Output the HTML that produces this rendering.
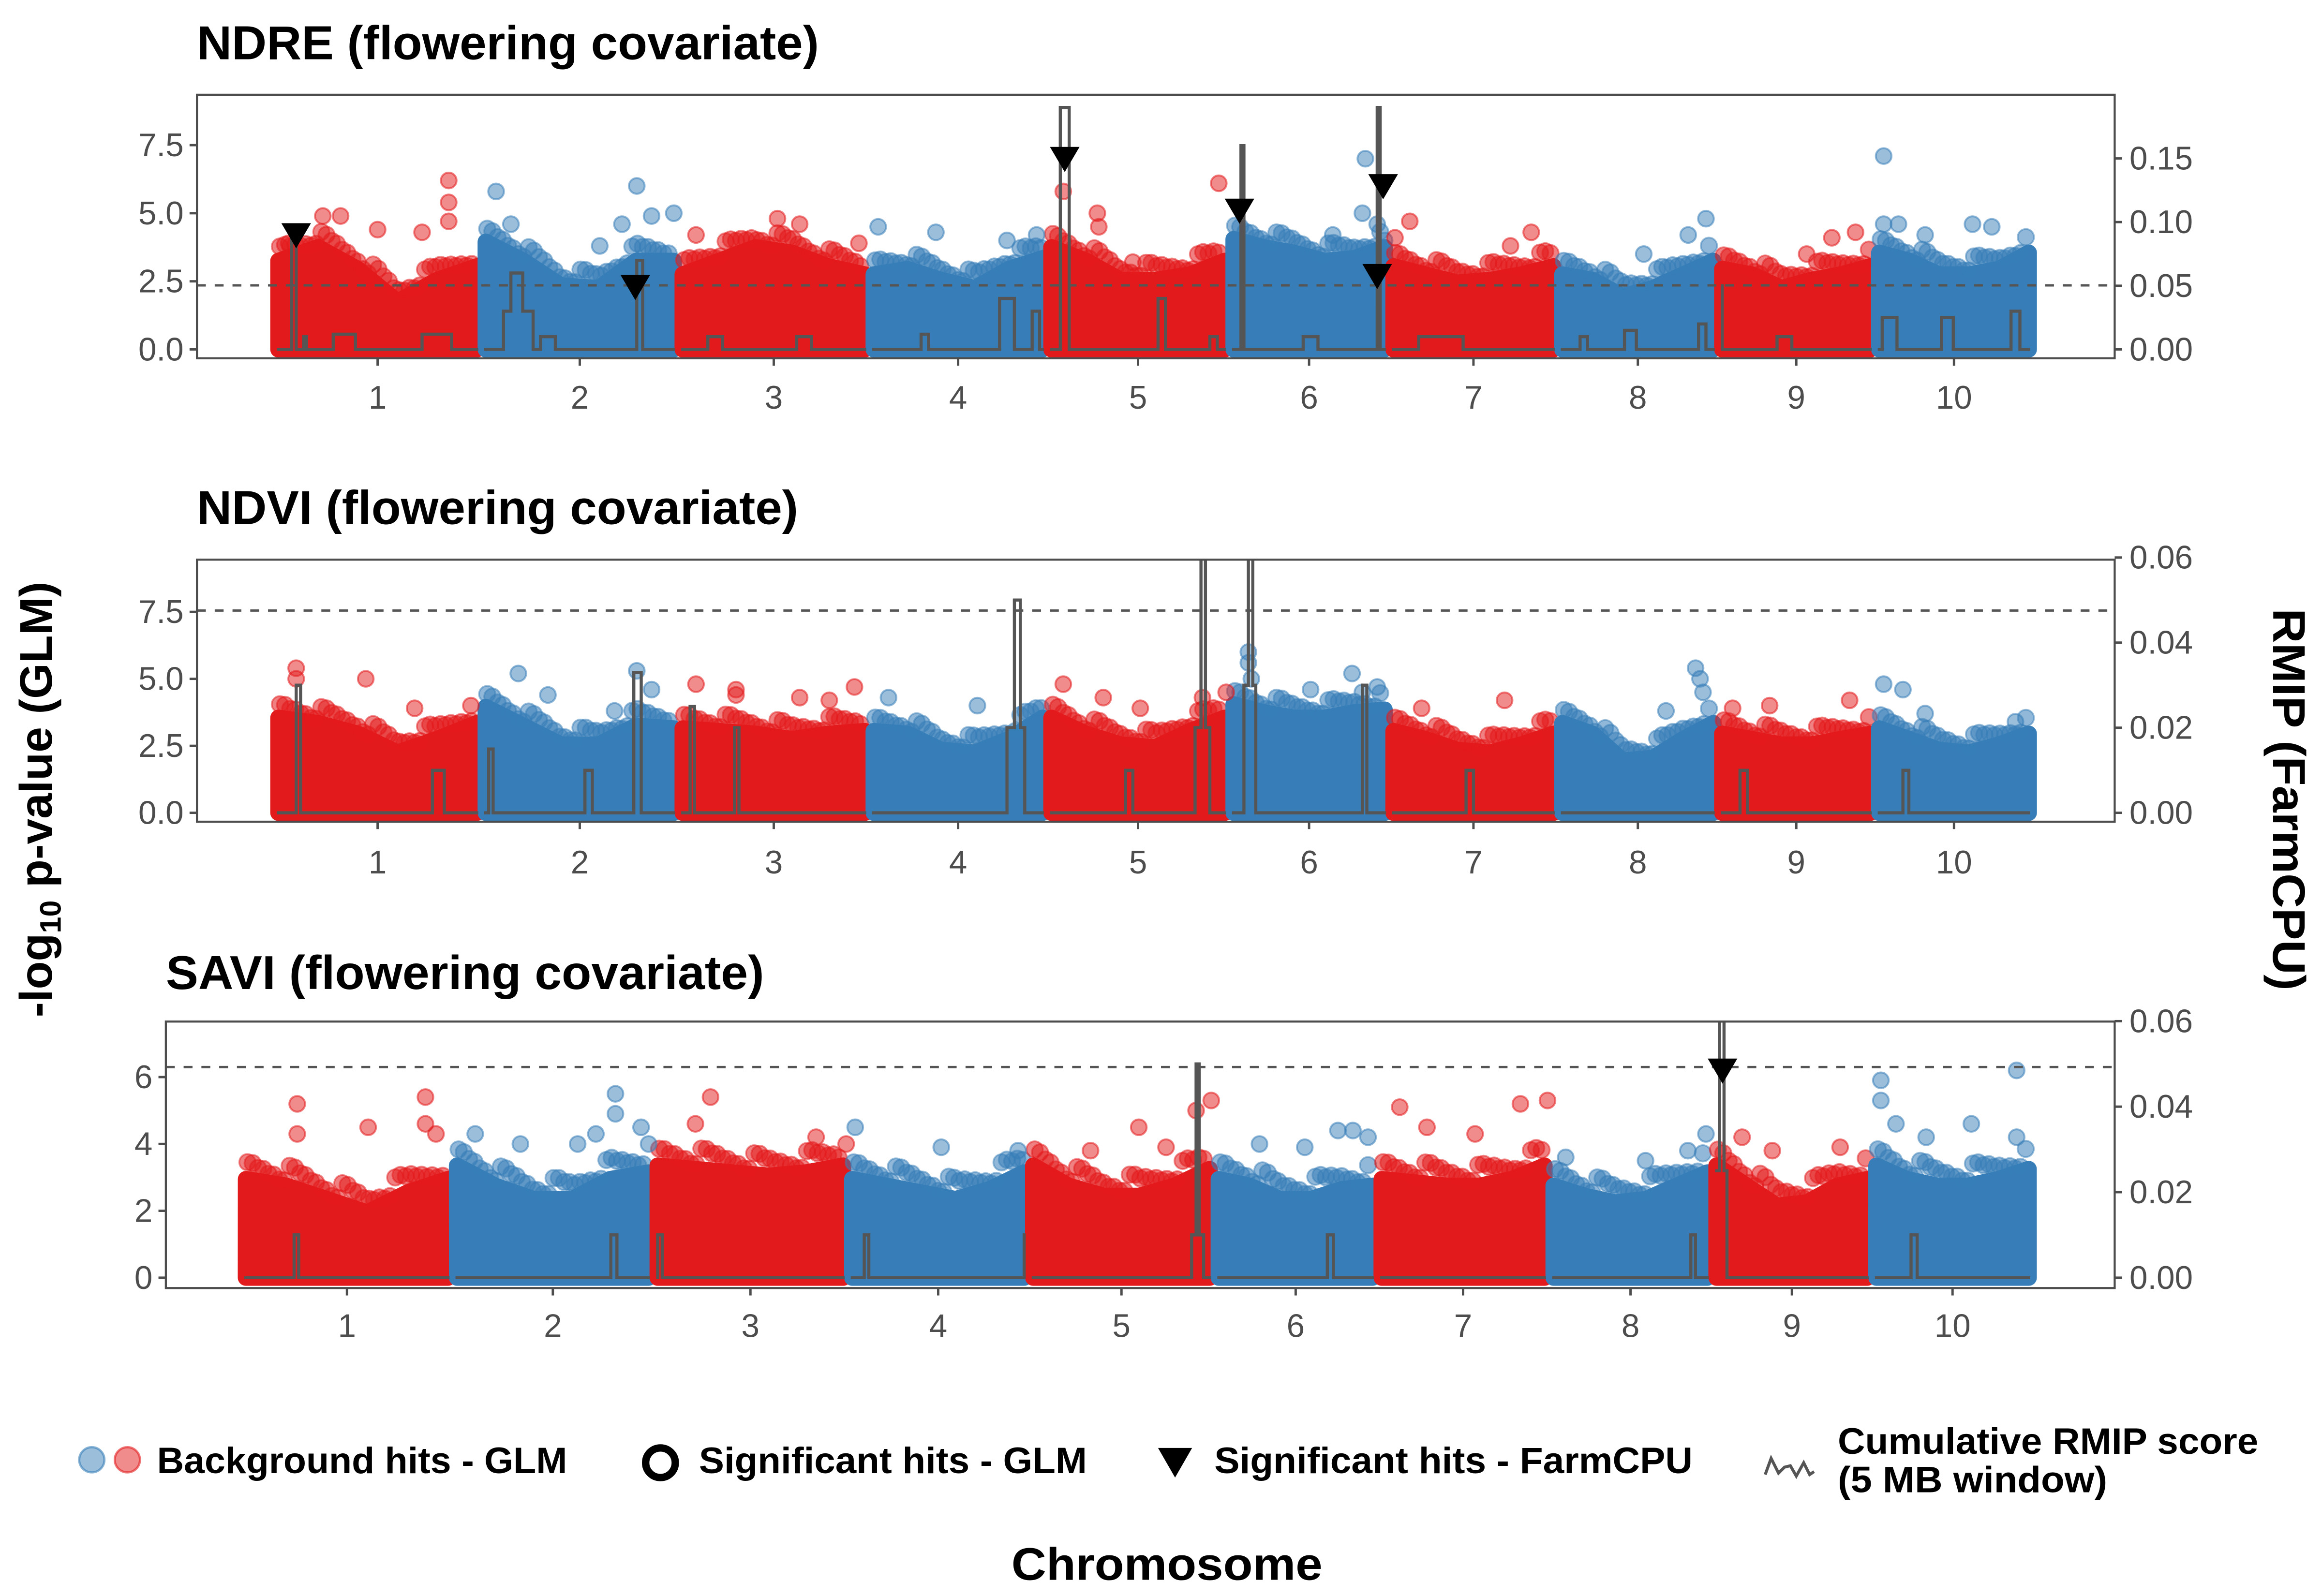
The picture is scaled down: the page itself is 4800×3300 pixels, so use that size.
<!DOCTYPE html>
<html><head><meta charset="utf-8"><style>
html,body{margin:0;padding:0;background:#fff}
svg{display:block}
text{font-family:"Liberation Sans",sans-serif}
</style></head><body>
<svg id="chart" width="4800" height="3300" viewBox="0 0 1568 1078" xmlns="http://www.w3.org/2000/svg">
<g id="root"></g>
</svg>
<script>
// ---------- data ----------
const chromosomes = ["1","2","3","4","5","6","7","8","9","10"];
const chrLen = [140,133,129,120,123,108,114,108,106,107];
const leftTicks12 = [0,2.5,5,7.5];
const leftTickLabels12 = ["0.0","2.5","5.0","7.5"];
const leftTicks3 = [0,2,4,6];
const leftTickLabels3 = ["0","2","4","6"];
const rightTicks1 = [0,0.05,0.10,0.15];
const rightTickLabels1 = ["0.00","0.05","0.10","0.15"];
const rightTicks23 = [0,0.02,0.04,0.06];
const rightTickLabels23 = ["0.00","0.02","0.04","0.06"];

// dense cloud upper envelope, 6 bins per chromosome
const envNDRE = [[3.5,4,3.2,2,2.8,3.3],[4.2,3.5,2.6,2.5,3.5,3.5],[3,3.5,4,3.8,3.3,3],[3,3.2,2.8,2.5,3.2,3.6],[4,3.5,2.8,2.8,3,3.5],[4.3,4,3.8,3.5,3.6,4],[3.3,3,2.7,2.8,3,3.3],[3,2.8,2.2,2.5,3,3.5],[3.2,3,2.5,2.8,3,3.3],[3.8,3.5,3,3,3.2,3.8]];
const envNDVI = [[3.8,3.6,3.2,2.5,3.0,3.6],[4.2,3.5,2.8,2.8,3.5,3.4],[3.4,3.3,3.2,3.0,3.2,3.3],[3.3,3.2,2.6,2.5,3.0,3.8],[3.8,3.2,2.8,2.7,3.3,3.8],[4.3,4.0,3.8,3.8,4.0,4.1],[3.3,3.0,2.6,2.5,2.8,3.2],[3.6,3.2,2.2,2.3,3.0,3.6],[3.2,3.0,2.8,2.8,3.0,3.2],[3.4,3.0,2.6,2.5,2.8,3.2]];
const envSAVI = [[3.2,3.0,2.6,2.2,2.8,3.2],[3.6,3.0,2.6,2.6,3.2,3.4],[3.6,3.5,3.4,3.3,3.4,3.6],[3.2,3.0,2.8,2.6,2.9,3.4],[3.6,3.0,2.7,2.7,3.0,3.5],[3.2,3.0,2.6,2.6,2.9,3.0],[3.2,3.1,3.0,3.0,3.2,3.6],[3.0,2.7,2.5,2.6,3.0,3.4],[3.6,3.0,2.4,2.5,3.0,3.2],[3.6,3.2,3.0,3.0,3.2,3.5]];

// outlier points [chr, offset, -log10p]
const ptsNDRE = [[1,118,6.2],[1,118,5.4],[1,118,4.7],[1,45,4.9],[1,33,4.9],[1,70,4.4],[1,100,4.3],[1,10,3.9],[2,10,5.8],[2,20,4.6],[2,95,4.6],[2,105,6.0],[2,115,4.9],[2,130,5.0],[2,80,3.8],[3,67,4.8],[3,82,4.6],[3,12,4.2],[3,122,3.9],[4,6,4.5],[4,45,4.3],[4,93,4.0],[4,113,4.2],[5,11,5.8],[5,34,5.0],[5,35,4.5],[5,116,6.1],[5,58,3.2],[6,92,7.0],[6,90,5.0],[6,100,4.6],[6,105,4.0],[6,70,4.2],[7,14,4.7],[7,4,4.1],[7,96,4.3],[7,82,3.8],[8,100,4.8],[8,88,4.2],[8,58,3.5],[9,93,4.3],[9,77,4.1],[9,60,3.5],[10,6,7.1],[10,6,4.6],[10,16,4.6],[10,34,4.2],[10,66,4.6],[10,79,4.5]];
const ptsNDVI = [[1,15,5.4],[1,15,5.0],[1,62,5.0],[1,95,3.9],[1,133,4.0],[2,25,5.2],[2,45,4.4],[2,105,5.3],[2,115,4.6],[2,90,3.8],[3,12,4.8],[3,39,4.6],[3,39,4.4],[3,82,4.3],[3,119,4.7],[3,102,4.2],[4,13,4.3],[4,73,4.0],[5,11,4.8],[5,38,4.3],[5,63,3.9],[5,105,4.3],[5,121,4.5],[6,13,6.0],[6,13,5.6],[6,15,5.0],[6,55,4.6],[6,83,5.2],[6,100,4.7],[6,90,4.5],[7,78,4.2],[7,22,3.9],[8,93,5.4],[8,96,5.0],[8,98,4.5],[8,73,3.8],[9,35,4.0],[9,89,4.2],[9,10,3.9],[10,6,4.8],[10,19,4.6],[10,34,3.7],[10,95,3.4]];
const ptsSAVI = [[1,37,5.2],[1,37,4.3],[1,84,4.5],[1,122,5.4],[1,122,4.6],[1,129,4.3],[2,15,4.3],[2,45,4.0],[2,83,4.0],[2,95,4.3],[2,108,5.5],[2,108,4.9],[2,125,4.5],[2,130,4.0],[3,38,5.4],[3,28,4.6],[3,108,4.2],[3,128,4.0],[4,5,4.5],[4,62,3.9],[4,113,3.8],[5,41,3.8],[5,73,4.5],[5,91,3.9],[5,121,5.3],[5,111,5.0],[6,30,4.0],[6,60,3.9],[6,82,4.4],[6,92,4.4],[6,102,4.2],[7,15,5.1],[7,33,4.5],[7,65,4.3],[7,95,5.2],[7,113,5.3],[8,11,3.6],[8,64,3.5],[8,92,3.8],[8,104,4.3],[9,20,4.2],[9,40,3.8],[9,85,3.9],[10,6,5.9],[10,6,5.3],[10,16,4.6],[10,36,4.2],[10,66,4.6],[10,96,6.2],[10,96,4.2]];

// FarmCPU significant hits [chr, offset, -log10p]
const farmNDRE = [[1,15,4.2],[2,104,2.3],[5,12,7.0],[6,7,5.1],[6,104,6.0],[6,100,2.7]];
const farmNDVI = [];
const farmSAVI = [[9,7,6.2]];

// RMIP windows [chr, offset, width, rmip]
const rmipNDRE = [[1,12,3,0.092],[1,20,2,0.01],[1,40,15,0.012],[1,100,20,0.012],[2,20,8,0.06],[2,15,20,0.03],[2,105,4,0.07],[2,40,10,0.01],[3,20,10,0.01],[3,80,10,0.01],[4,35,5,0.012],[4,88,10,0.04],[4,110,5,0.03],[5,9,6,0.19],[5,75,5,0.04],[5,110,5,0.01],[6,8,2,0.16],[6,100,2,0.19],[6,50,10,0.01],[7,20,30,0.01],[8,15,5,0.01],[8,45,8,0.015],[8,95,5,0.02],[9,0,3,0.05],[9,40,10,0.01],[10,5,10,0.025],[10,45,8,0.025],[10,92,6,0.03]];
const rmipNDVI = [[1,15,3,0.03],[1,107,8,0.01],[2,5,3,0.015],[2,70,5,0.01],[2,103,5,0.033],[3,8,3,0.025],[3,38,3,0.02],[4,98,4,0.05],[4,93,12,0.02],[5,53,5,0.01],[5,104,3,0.06],[5,100,10,0.02],[6,13,3,0.06],[6,10,8,0.03],[6,90,3,0.03],[7,52,5,0.01],[9,15,5,0.01],[10,19,4,0.01]];
const rmipSAVI = [[1,35,3,0.01],[2,105,4,0.01],[3,3,3,0.01],[4,11,3,0.01],[4,117,4,0.01],[5,111,2,0.05],[5,108,8,0.01],[6,75,4,0.01],[8,94,3,0.01],[9,5,3,0.06],[9,2,8,0.025],[10,26,4,0.01]];

const thresholds = [2.35, 7.55, 6.3];

// ---------- drawing ----------
const NS="http://www.w3.org/2000/svg";
const root=document.getElementById('root');
function mk(tag,attrs,parent){const e=document.createElementNS(NS,tag);for(const k in attrs)e.setAttribute(k,attrs[k]);(parent||root).appendChild(e);return e;}
const RED="#e31a1c", BLUE="#377eb8", AX="#4d4d4d";
const cum=[];let acc=0;for(const l of chrLen){cum.push(acc);acc+=l;}
const total=acc;

const panels=[
 {key:"ndre",title:"NDRE (flowering covariate)",tw:420,bx0:133,bx1:1428,by0:64,by1:242,dx0:185,dx1:1373,y0:236,ymax:9.35,ry0:236,rmax:0.2,
  env:envNDRE,pts:ptsNDRE,farm:farmNDRE,rmip:rmipNDRE,lt:leftTicks12,ll:leftTickLabels12,rt:rightTicks1,rl:rightTickLabels1,th:thresholds[0],titleY:40,tickY:276},
 {key:"ndvi",title:"NDVI (flowering covariate)",tw:406,bx0:133,bx1:1428,by0:378,by1:555,dx0:185,dx1:1373,y0:549,ymax:9.45,ry0:549,rmax:0.0595,
  env:envNDVI,pts:ptsNDVI,farm:farmNDVI,rmip:rmipNDVI,lt:leftTicks12,ll:leftTickLabels12,rt:rightTicks23,rl:rightTickLabels23,th:thresholds[1],titleY:354,tickY:590},
 {key:"savi",title:"SAVI (flowering covariate)",tw:404,bx0:112,bx1:1428,by0:690,by1:870,dx0:163,dx1:1373,y0:863,ymax:7.66,ry0:863,rmax:0.0599,
  env:envSAVI,pts:ptsSAVI,farm:farmSAVI,rmip:rmipSAVI,lt:leftTicks3,ll:leftTickLabels3,rt:rightTicks23,rl:rightTickLabels23,th:thresholds[2],titleY:668,tickY:903}
];

panels.forEach((p,pi)=>{
  const g=mk('g',{});
  
  
  const xs=(c,off)=>p.dx0+(cum[c-1]+off)/total*(p.dx1-p.dx0);
  const ys=v=>p.y0-v/p.ymax*(p.y0-p.by0);
  const rs=r=>p.ry0-r/p.rmax*(p.ry0-p.by0);
  const clipId='clip'+pi;
  const cp=mk('clipPath',{id:clipId},g);
  mk('rect',{x:p.bx0,y:p.by0,width:p.bx1-p.bx0,height:p.by1-p.by0},cp);
  const t=mk('text',{x:p.bx0,y:p.titleY,'font-size':32,'font-weight':'bold',fill:'#000',textLength:p.tw,lengthAdjust:'spacingAndGlyphs'},g);
  t.textContent=p.title;
  
  
  const plot=mk('g',{'clip-path':'url(#'+clipId+')'},g);
  // dense clouds
  for(let c=1;c<=10;c++){
    const col=c%2?RED:BLUE;
    const L=chrLen[c-1], bins=p.env[c-1];
    const envAt=o=>{const f=(o-3)/(L-6)*(bins.length-1);const i=Math.max(0,Math.min(bins.length-2,Math.floor(f)));const t=f-i;return bins[i]*(1-t)+bins[i+1]*t;};
    let d='M'+xs(c,3)+','+ys(0);
    bins.forEach((v,i)=>{const o=3+(L-6)*(i/(bins.length-1));d+=' L'+xs(c,o).toFixed(1)+','+ys(v-0.25).toFixed(1);});
    d+=' L'+xs(c,L-3)+','+ys(0)+' Z';
    const e=mk('path',{d:d,fill:col,stroke:col,'stroke-width':11,'stroke-linejoin':'round'},plot);
    
    
    // fringe of overlapping translucent dots along the cloud edge
    for(let o=4;o<=L-4;o+=3.5){
      const v=envAt(o);
      const k=Math.round(o*7)%5;
      const fr=mk('circle',{cx:xs(c,o).toFixed(1),cy:ys(v-0.1+k*0.12).toFixed(1),r:5.5,fill:col,'fill-opacity':0.55,stroke:col,'stroke-opacity':0.5,'stroke-width':1.2},plot);
      
      
    }
  }
  // outliers
  p.pts.forEach(q=>{
    const col=q[0]%2?RED:BLUE;
    const e=mk('circle',{cx:xs(q[0],q[1]).toFixed(1),cy:ys(q[2]).toFixed(1),r:5.3,fill:col,'fill-opacity':0.5,stroke:col,'stroke-opacity':0.55,'stroke-width':1.3},plot);
    
    
  });
  // threshold
  const th=mk('line',{x1:p.bx0,x2:p.bx1,y1:ys(p.th),y2:ys(p.th),stroke:'#555',"stroke-width":1.6,'stroke-dasharray':'6,6'},plot);
  
  
  // RMIP step line per chromosome
  for(let c=1;c<=10;c++){
    const L=chrLen[c-1];
    const segs=p.rmip.filter(s=>s[0]===c);
    const bps=new Set([2,L-2]);
    segs.forEach(s=>{bps.add(s[1]);bps.add(s[1]+s[2]);});
    const arr=[...bps].filter(b=>b>=2&&b<=L-2).sort((a,b)=>a-b);
    let d='';
    for(let i=0;i<arr.length-1;i++){
      const mid=(arr[i]+arr[i+1])/2;let v=0;
      segs.forEach(s=>{if(mid>=s[1]&&mid<=s[1]+s[2])v=Math.max(v,s[3]);});
      d+=(i===0?'M':' L')+xs(c,arr[i]).toFixed(1)+','+rs(v).toFixed(1)+' L'+xs(c,arr[i+1]).toFixed(1)+','+rs(v).toFixed(1);
    }
    const e=mk('path',{d:d,fill:'none',stroke:'#555','stroke-width':2.1,'stroke-linejoin':'miter'},plot);
    
    
  }
  // FarmCPU triangles
  p.farm.forEach(q=>{
    const x=xs(q[0],q[1]), y=ys(q[2]);
    const e=mk('path',{d:`M${x-10},${y-8} L${x+10},${y-8} L${x},${y+9} Z`,fill:'#000'},plot);
    
    
  });
  // box
  const bx=mk('rect',{x:p.bx0,y:p.by0,width:p.bx1-p.bx0,height:p.by1-p.by0,fill:'none',stroke:AX,'stroke-width':1.4},g);
  
  
  // left ticks
  p.lt.forEach((v,i)=>{
    const y=ys(v);
    mk('line',{x1:p.bx0-5,x2:p.bx0,y1:y,y2:y,stroke:AX,'stroke-width':1.6},g);
    const tx=mk('text',{x:p.bx0-9,y:y+7.5,'font-size':22,fill:AX,'text-anchor':'end'},g);
    tx.textContent=p.ll[i];
    
    
  });
  // right ticks
  p.rt.forEach((v,i)=>{
    const y=rs(v);
    mk('line',{x1:p.bx1,x2:p.bx1+5,y1:y,y2:y,stroke:AX,'stroke-width':1.6},g);
    const tx=mk('text',{x:p.bx1+10,y:y+7.5,'font-size':22,fill:AX},g);
    tx.textContent=p.rl[i];
    
    
  });
  // x ticks
  chromosomes.forEach((lab,i)=>{
    const x=xs(i+1,chrLen[i]/2);
    mk('line',{x1:x,x2:x,y1:p.by1,y2:p.by1+5,stroke:AX,'stroke-width':1.6},g);
    const tx=mk('text',{x:x,y:p.tickY,'font-size':22,fill:AX,'text-anchor':'middle'},g);
    tx.textContent=lab;
    
    
  });
});
</script>
<svg style="position:absolute;left:0;top:0" width="4800" height="3300" viewBox="0 0 1568 1078" xmlns="http://www.w3.org/2000/svg">
  <text transform="translate(35,540) rotate(-90)" text-anchor="middle" font-size="31" font-weight="bold" font-family="Liberation Sans, sans-serif">-log<tspan font-size="20" dy="6">10</tspan><tspan dy="-6"> p-value (GLM)</tspan></text>
  <text transform="translate(1535,540) rotate(90)" text-anchor="middle" font-size="31" font-weight="bold" font-family="Liberation Sans, sans-serif" textLength="258" lengthAdjust="spacingAndGlyphs">RMIP (FarmCPU)</text>
  <g font-family="Liberation Sans, sans-serif" font-weight="bold" font-size="25">
    <circle cx="62" cy="986" r="8.5" fill="#377eb8" fill-opacity="0.5" stroke="#377eb8" stroke-opacity="0.6" stroke-width="1.5"/>
    <circle cx="86" cy="986" r="8.5" fill="#e31a1c" fill-opacity="0.5" stroke="#e31a1c" stroke-opacity="0.6" stroke-width="1.5"/>
    <text x="106" y="995" textLength="277" lengthAdjust="spacingAndGlyphs">Background hits - GLM</text>
    <circle cx="446" cy="988" r="10" fill="none" stroke="#000" stroke-width="5"/>
    <text x="472" y="995" textLength="262" lengthAdjust="spacingAndGlyphs">Significant hits - GLM</text>
    <path d="M782,978 L805,978 L793.5,998 Z" fill="#000"/>
    <text x="820" y="995" textLength="323" lengthAdjust="spacingAndGlyphs">Significant hits - FarmCPU</text>
    <path d="M1192,996 L1196,985 L1201,995 L1205,991 L1209,990 L1213,997 L1218,988 L1222,996 L1225,994" fill="none" stroke="#555" stroke-width="2"/>
    <text x="1241" y="982" textLength="284" lengthAdjust="spacingAndGlyphs">Cumulative RMIP score</text>
    <text x="1241" y="1008" textLength="182" lengthAdjust="spacingAndGlyphs">(5 MB window)</text>
  </g>
  <text x="788" y="1067" text-anchor="middle" font-size="31" font-weight="bold" font-family="Liberation Sans, sans-serif" textLength="210" lengthAdjust="spacingAndGlyphs">Chromosome</text>
</svg>
</body></html>
